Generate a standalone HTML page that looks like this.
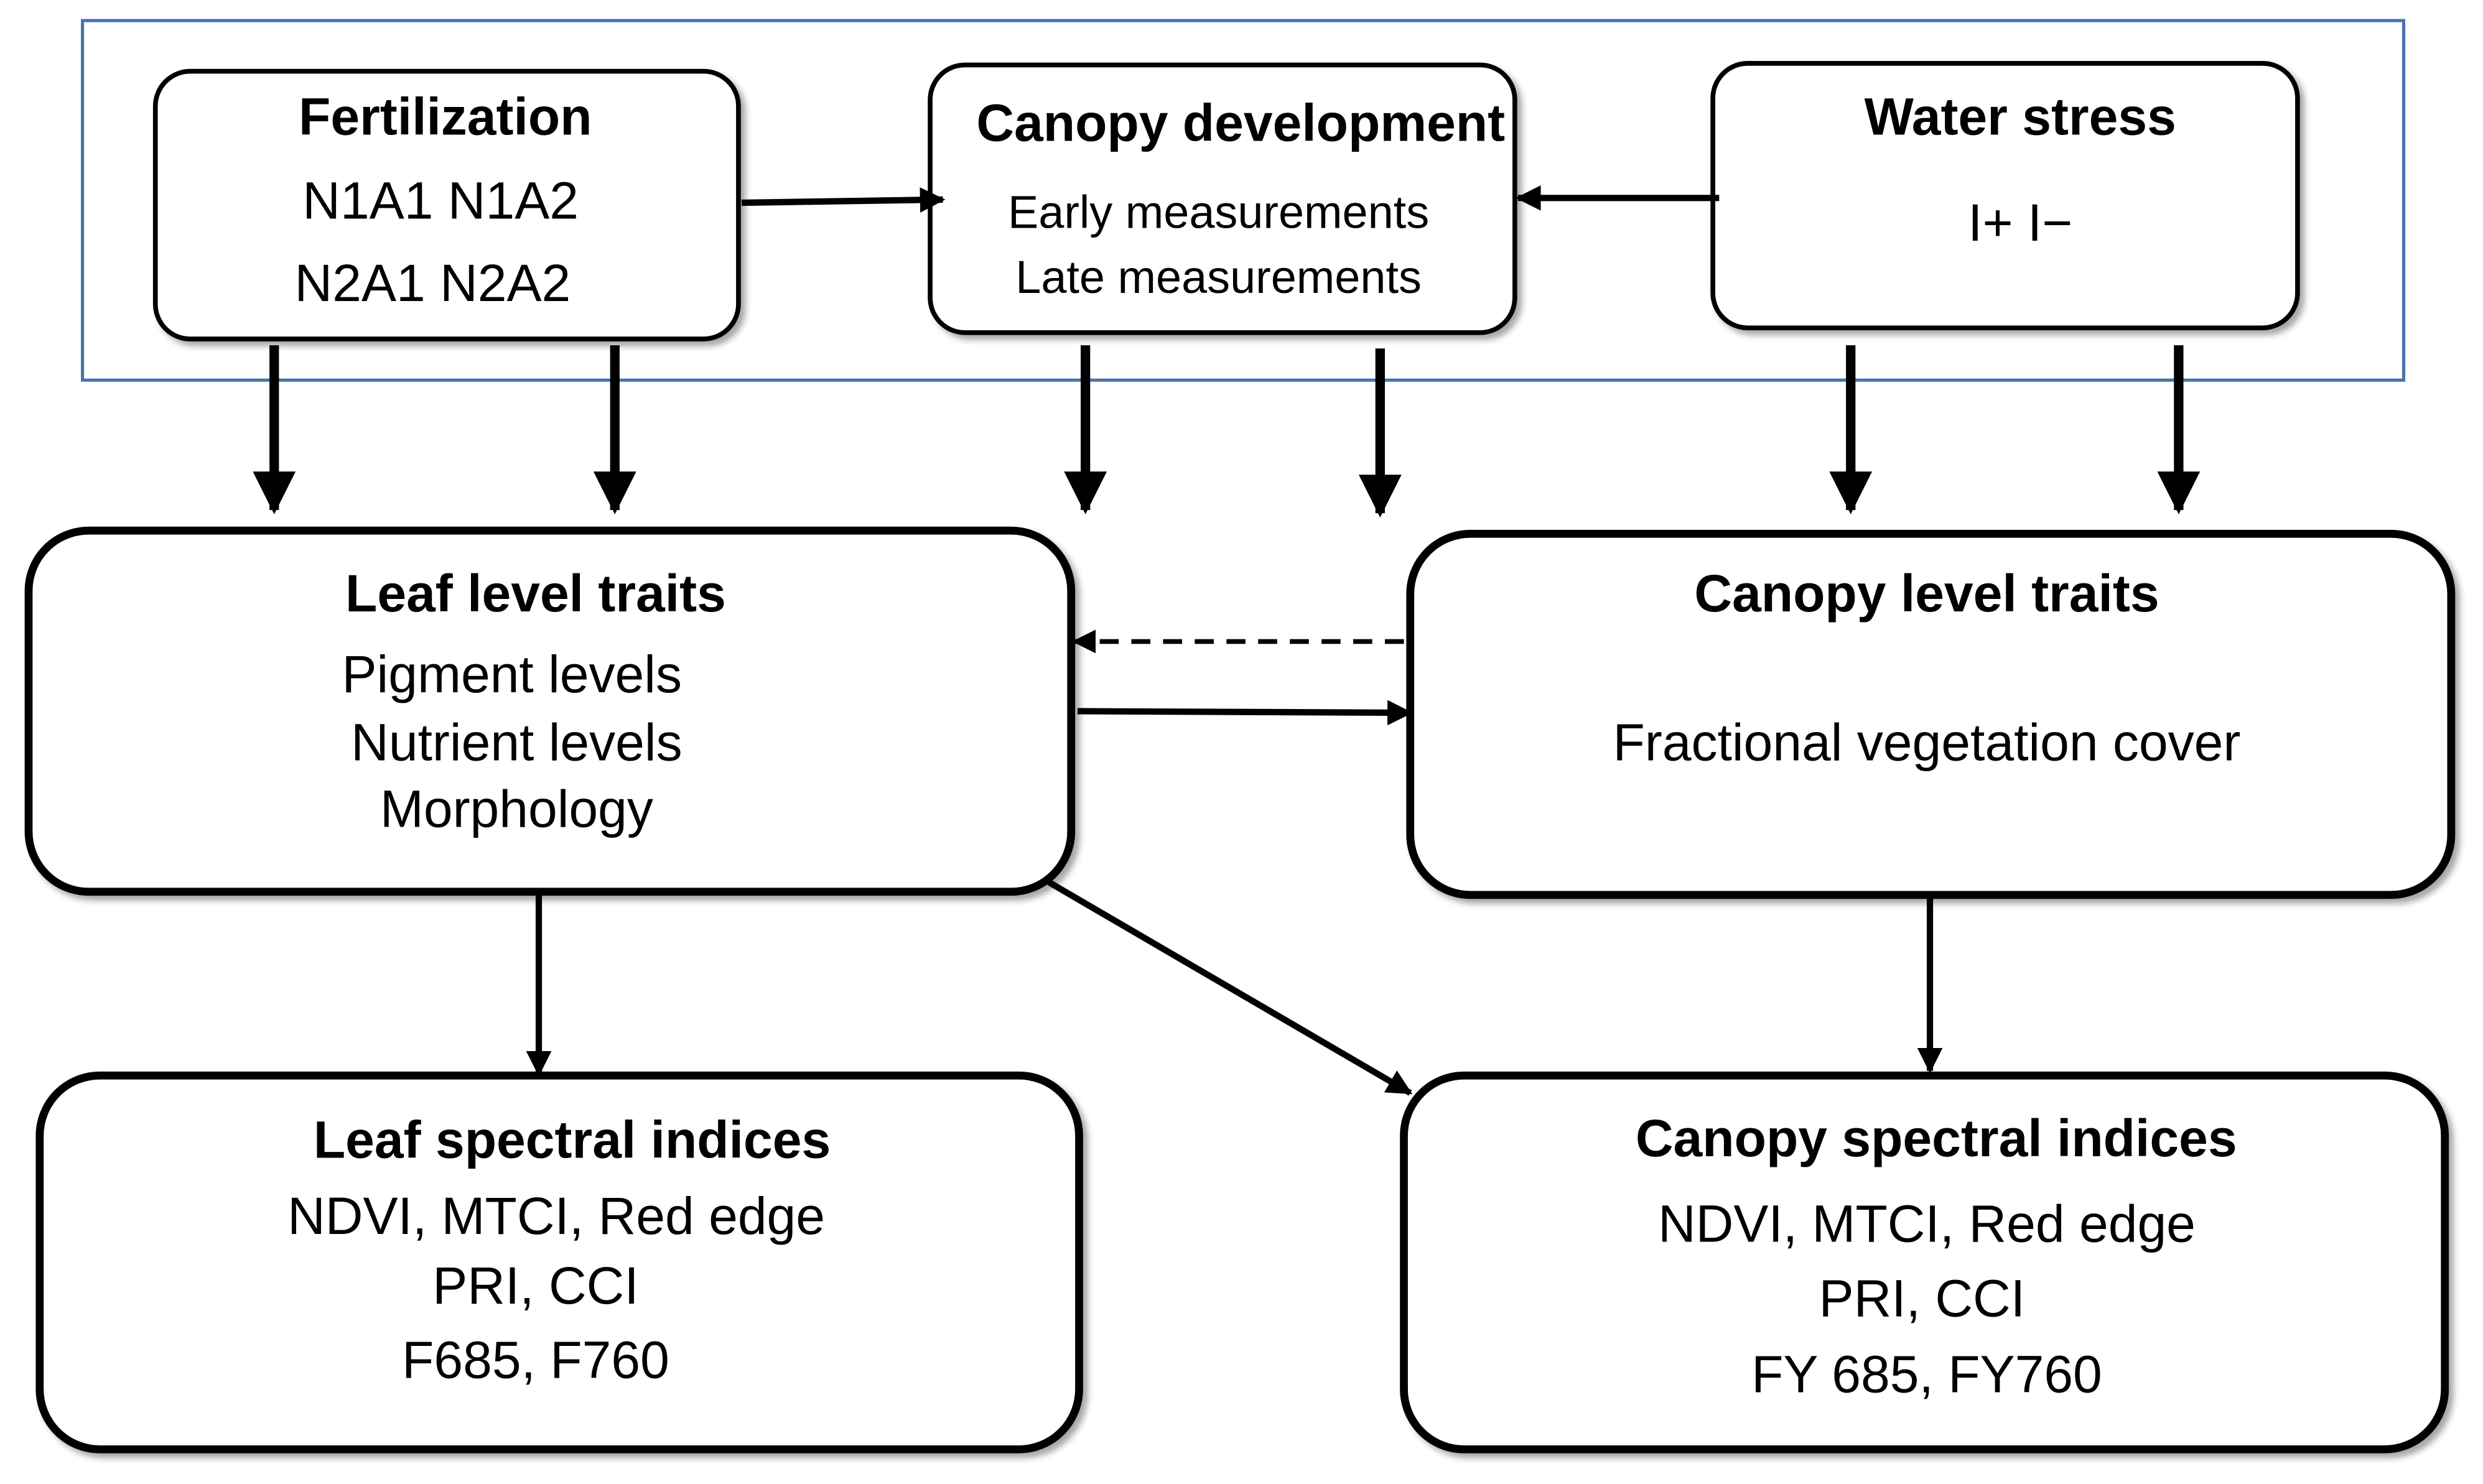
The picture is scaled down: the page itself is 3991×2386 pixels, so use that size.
<!DOCTYPE html>
<html><head><meta charset="utf-8"><style>html,body{margin:0;padding:0;background:#fff}svg{display:block}</style></head>
<body>
<svg width="3991" height="2386" viewBox="0 0 1567 936.9" xmlns="http://www.w3.org/2000/svg" font-family="Liberation Sans, Arial, sans-serif">
<defs>
<filter id="sh" x="-10%" y="-10%" width="130%" height="130%">
<feDropShadow dx="3" dy="3" stdDeviation="2" flood-color="#000" flood-opacity="0.35"/>
</filter>
<marker id="ah" viewBox="0 0 10 10" refX="9" refY="5" markerWidth="4" markerHeight="4" orient="auto" markerUnits="strokeWidth"><path d="M0,0 L10,5 L0,10 z" fill="#000"/></marker>
<marker id="ah3" viewBox="0 0 10 10" refX="9" refY="5" markerWidth="4.5" markerHeight="4.5" orient="auto" markerUnits="strokeWidth"><path d="M0,0 L10,5 L0,10 z" fill="#000"/></marker>
<marker id="ah2" viewBox="0 0 10 10" refX="9" refY="5" markerWidth="5" markerHeight="5" orient="auto" markerUnits="strokeWidth"><path d="M0,0 L10,5 L0,10 z" fill="#000"/></marker>
</defs>
<rect width="1570" height="940" fill="#fff"/>
<rect x="52" y="13" width="1465" height="227" fill="none" stroke="#4a72b0" stroke-width="2"/>

<g fill="#fff" stroke="#000" filter="url(#sh)">
<rect x="98" y="45" width="368" height="169" rx="22" stroke-width="3"/>
<rect x="587" y="41" width="369" height="169" rx="22" stroke-width="3"/>
<rect x="1081" y="40" width="369" height="167" rx="22" stroke-width="3"/>
<rect x="18" y="335" width="658" height="228" rx="38" stroke-width="5"/>
<rect x="890" y="337" width="657" height="228" rx="38" stroke-width="5"/>
<rect x="25" y="679" width="656" height="236" rx="38" stroke-width="5"/>
<rect x="886" y="679" width="657" height="236" rx="38" stroke-width="5"/>
</g>

<g stroke="#000" fill="none">
<line x1="468" y1="128" x2="595" y2="126" stroke-width="4" marker-end="url(#ah)"/>
<line x1="1085" y1="125" x2="958" y2="125" stroke-width="4" marker-end="url(#ah)"/>
<g stroke-width="6" marker-end="url(#ah3)">
<line x1="173" y1="218" x2="173" y2="322"/>
<line x1="388" y1="218" x2="388" y2="322"/>
<line x1="685" y1="218" x2="685" y2="322"/>
<line x1="871" y1="220" x2="871" y2="324"/>
<line x1="1168" y1="218" x2="1168" y2="322"/>
<line x1="1375" y1="218" x2="1375" y2="322"/>
</g>
<line x1="886" y1="405" x2="678" y2="405" stroke-width="3" stroke-dasharray="12,8" marker-end="url(#ah2)"/>
<line x1="680" y1="449" x2="890" y2="450" stroke-width="4" marker-end="url(#ah)"/>
<line x1="340" y1="565" x2="340" y2="678" stroke-width="4" marker-end="url(#ah)"/>
<line x1="662" y1="557" x2="890" y2="690" stroke-width="4" marker-end="url(#ah)"/>
<line x1="1218" y1="567" x2="1218" y2="676" stroke-width="4" marker-end="url(#ah)"/>
</g>

<g text-anchor="middle" fill="#000">
<text x="281" y="85" font-size="33" font-weight="bold">Fertilization</text>
<text x="278" y="138" font-size="33">N1A1 N1A2</text>
<text x="273" y="190" font-size="33">N2A1 N2A2</text>
<text x="783" y="89" font-size="33" font-weight="bold">Canopy development</text>
<text x="769" y="144" font-size="29">Early measurements</text>
<text x="769" y="185" font-size="29">Late measurements</text>
<text x="1275" y="85" font-size="33" font-weight="bold">Water stress</text>
<text x="1275" y="152" font-size="33">I+ I−</text>
<text x="338" y="386" font-size="33" font-weight="bold">Leaf level traits</text>
<text x="323" y="437" font-size="33">Pigment levels</text>
<text x="326" y="480" font-size="33">Nutrient levels</text>
<text x="326" y="522" font-size="33">Morphology</text>
<text x="1216" y="386" font-size="33" font-weight="bold">Canopy level traits</text>
<text x="1216" y="480" font-size="33">Fractional vegetation cover</text>
<text x="361" y="731" font-size="33" font-weight="bold">Leaf spectral indices</text>
<text x="351" y="779" font-size="33">NDVI, MTCI, Red edge</text>
<text x="338" y="823" font-size="33">PRI, CCI</text>
<text x="338" y="870" font-size="33">F685, F760</text>
<text x="1222" y="730" font-size="33" font-weight="bold">Canopy spectral indices</text>
<text x="1216" y="784" font-size="33">NDVI, MTCI, Red edge</text>
<text x="1213" y="831" font-size="33">PRI, CCI</text>
<text x="1216" y="879" font-size="33">FY 685, FY760</text>
</g>
</svg>
</body></html>
